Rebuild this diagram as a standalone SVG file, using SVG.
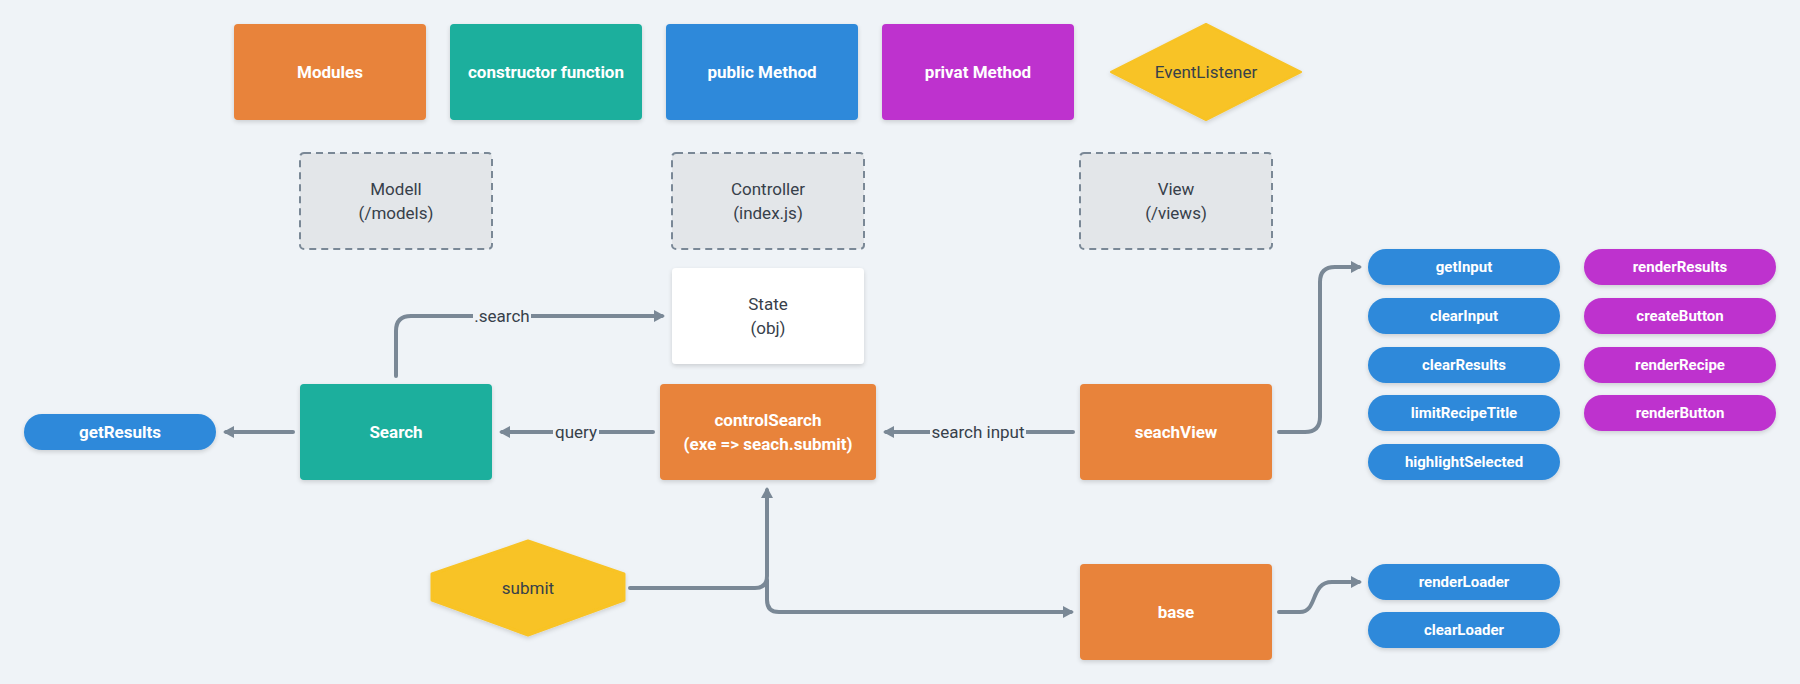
<svg xmlns="http://www.w3.org/2000/svg" width="1800" height="684" viewBox="0 0 1800 684">
<defs>
<style>
.t{font-family:Roboto,"Liberation Sans",sans-serif;font-size:17px;text-anchor:middle;dominant-baseline:central}
.w{fill:#ffffff;font-weight:bold}
.d{fill:#37404a}
.pw{fill:#ffffff;font-weight:bold;font-size:15px}
.orange{fill:#e8833a}
.teal{fill:#1aaf9d}
.blue{fill:#2d89da}
.purple{fill:#be33ce}
.yellow{fill:#f8c325}
.dash{fill:#e3e6e9;stroke:#7a8896;stroke-width:2;stroke-dasharray:7 5}
.c{fill:none;stroke:#7a8896;stroke-width:4;stroke-linecap:round;stroke-linejoin:round}
.lbl{fill:#eff3f7}
</style>
<filter id="sh" x="-10%" y="-10%" width="120%" height="130%">
<feDropShadow dx="0" dy="2" stdDeviation="2" flood-color="#000" flood-opacity="0.15"/>
</filter>
<marker id="ah" markerUnits="userSpaceOnUse" markerWidth="12" markerHeight="14" refX="8" refY="7" orient="auto">
<path d="M0,1 L11,7 L0,13 z" fill="#7a8896"/>
</marker>
</defs>
<rect width="1800" height="684" fill="#eff3f7"/>

<g id="legend-modules"><rect x="234" y="24" width="192" height="96" rx="4" class="orange" filter="url(#sh)"/><text x="330" y="72" class="t w">Modules</text></g>
<g id="legend-constructor"><rect x="450" y="24" width="192" height="96" rx="4" class="teal" filter="url(#sh)"/><text x="546" y="72" class="t w">constructor function</text></g>
<g id="legend-public"><rect x="666" y="24" width="192" height="96" rx="4" class="blue" filter="url(#sh)"/><text x="762" y="72" class="t w">public Method</text></g>
<g id="legend-privat"><rect x="882" y="24" width="192" height="96" rx="4" class="purple" filter="url(#sh)"/><text x="978" y="72" class="t w">privat Method</text></g>
<g id="legend-event"><path d="M1206,24 L1301,72 L1206,120 L1111,72 Z" class="yellow" stroke="#f8c325" stroke-width="2" stroke-linejoin="round" filter="url(#sh)"/><text x="1206" y="72" class="t d">EventListener</text></g>

<g id="modell"><rect x="300" y="153" width="192" height="96" rx="4" class="dash"/><text x="396" y="189" class="t d">Modell</text><text x="396" y="213" class="t d">(/models)</text></g>
<g id="controller"><rect x="672" y="153" width="192" height="96" rx="4" class="dash"/><text x="768" y="189" class="t d">Controller</text><text x="768" y="213" class="t d">(index.js)</text></g>
<g id="view"><rect x="1080" y="153" width="192" height="96" rx="4" class="dash"/><text x="1176" y="189" class="t d">View</text><text x="1176" y="213" class="t d">(/views)</text></g>

<g id="state"><rect x="672" y="268" width="192" height="96" rx="4" fill="#ffffff" filter="url(#sh)"/><text x="768" y="304" class="t d">State</text><text x="768" y="328" class="t d">(obj)</text></g>

<g id="connectors">
<path class="c" d="M293,432 H226" marker-end="url(#ah)"/>
<path class="c" d="M653,432 H502" marker-end="url(#ah)"/>
<path class="c" d="M1073,432 H886" marker-end="url(#ah)"/>
<path class="c" d="M396,376 V331 Q396,316 411,316 H662" marker-end="url(#ah)"/>
<path class="c" d="M1279,432 H1305 Q1320,432 1320,417 V282 Q1320,267 1335,267 H1359" marker-end="url(#ah)"/>
<path class="c" d="M630,588 H755 Q767,588 767,576 V490" marker-end="url(#ah)"/>
<path class="c" d="M767,580 V600 Q767,612 779,612 H1071" marker-end="url(#ah)"/>
<path class="c" d="M1279,612 H1300 C1318,612 1310,582 1332,582 H1359" marker-end="url(#ah)"/>
<rect x="473" y="304" width="58" height="24" class="lbl"/>
<text x="502" y="316" class="t d">.search</text>
<rect x="553" y="420" width="46" height="24" class="lbl"/>
<text x="576" y="432" class="t d">query</text>
<rect x="930" y="420" width="96" height="24" class="lbl"/>
<text x="978" y="432" class="t d">search input</text>
</g>

<g id="getResults"><rect x="24" y="414" width="192" height="36" rx="18" class="blue" filter="url(#sh)"/><text x="120" y="432" class="t w">getResults</text></g>
<g id="search"><rect x="300" y="384" width="192" height="96" rx="4" class="teal" filter="url(#sh)"/><text x="396" y="432" class="t w">Search</text></g>
<g id="controlSearch"><rect x="660" y="384" width="216" height="96" rx="4" class="orange" filter="url(#sh)"/><text x="768" y="420" class="t w">controlSearch</text><text x="768" y="444" class="t w">(exe =&gt; seach.submit)</text></g>
<g id="seachView"><rect x="1080" y="384" width="192" height="96" rx="4" class="orange" filter="url(#sh)"/><text x="1176" y="432" class="t w">seachView</text></g>
<g id="base"><rect x="1080" y="564" width="192" height="96" rx="4" class="orange" filter="url(#sh)"/><text x="1176" y="612" class="t w">base</text></g>
<g id="submit"><path d="M528,541 L624,574 L624,600 L528,635 L432,600 L432,574 Z" class="yellow" stroke="#f8c325" stroke-width="3" stroke-linejoin="round" filter="url(#sh)"/><text x="528" y="588" class="t d">submit</text></g>

<g id="getInput"><rect x="1368" y="249" width="192" height="36" rx="18" class="blue" filter="url(#sh)"/><text x="1464" y="267" class="t pw">getInput</text></g>
<g id="clearInput"><rect x="1368" y="298" width="192" height="36" rx="18" class="blue" filter="url(#sh)"/><text x="1464" y="316" class="t pw">clearInput</text></g>
<g id="clearResults"><rect x="1368" y="347" width="192" height="36" rx="18" class="blue" filter="url(#sh)"/><text x="1464" y="365" class="t pw">clearResults</text></g>
<g id="limitRecipeTitle"><rect x="1368" y="395" width="192" height="36" rx="18" class="blue" filter="url(#sh)"/><text x="1464" y="413" class="t pw">limitRecipeTitle</text></g>
<g id="highlightSelected"><rect x="1368" y="444" width="192" height="36" rx="18" class="blue" filter="url(#sh)"/><text x="1464" y="462" class="t pw">highlightSelected</text></g>

<g id="renderResults"><rect x="1584" y="249" width="192" height="36" rx="18" class="purple" filter="url(#sh)"/><text x="1680" y="267" class="t pw">renderResults</text></g>
<g id="createButton"><rect x="1584" y="298" width="192" height="36" rx="18" class="purple" filter="url(#sh)"/><text x="1680" y="316" class="t pw">createButton</text></g>
<g id="renderRecipe"><rect x="1584" y="347" width="192" height="36" rx="18" class="purple" filter="url(#sh)"/><text x="1680" y="365" class="t pw">renderRecipe</text></g>
<g id="renderButton"><rect x="1584" y="395" width="192" height="36" rx="18" class="purple" filter="url(#sh)"/><text x="1680" y="413" class="t pw">renderButton</text></g>

<g id="renderLoader"><rect x="1368" y="564" width="192" height="36" rx="18" class="blue" filter="url(#sh)"/><text x="1464" y="582" class="t pw">renderLoader</text></g>
<g id="clearLoader"><rect x="1368" y="612" width="192" height="36" rx="18" class="blue" filter="url(#sh)"/><text x="1464" y="630" class="t pw">clearLoader</text></g>
</svg>
